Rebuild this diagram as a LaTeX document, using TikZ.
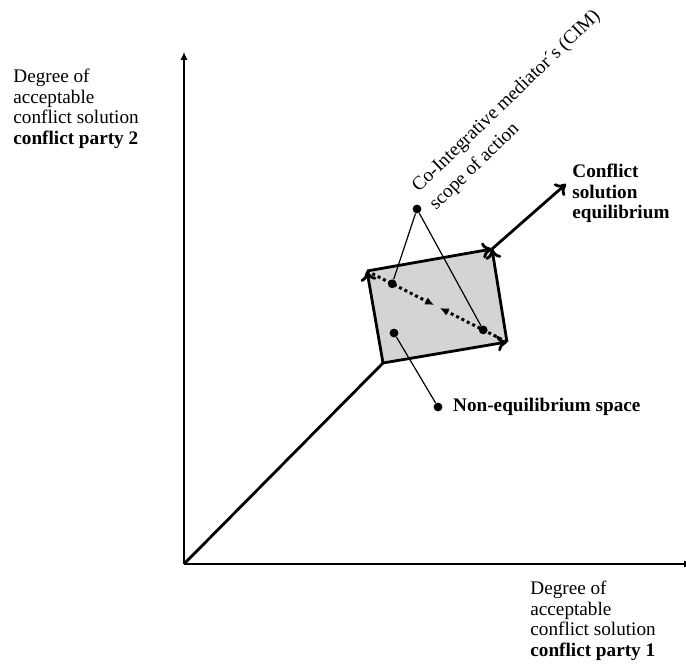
\documentclass[tikz,border=0pt]{standalone}
\usepackage{fontspec}
\setmainfont{Liberation Serif}
\usetikzlibrary{arrows.meta, positioning, calc}

\begin{document}
\begin{tikzpicture}[
  x=0.5pt, y=0.5pt,
  axis/.style={line width=0.6pt, -{Latex[length=4pt,width=3.6pt]}},
  thickline/.style={line width=1.4pt},
  edge/.style={line width=1.4pt, -{Computer Modern Rightarrow[length=5pt,width=8pt]}},
  dotline/.style={line width=1.5pt, dash pattern=on 1.5pt off 1.5pt, -{Latex[length=4.5pt,width=4pt]}},
  area/.style={fill=black!17},
  dot/.style={circle, fill=black, inner sep=0pt, minimum size=4.4pt},
  pointer/.style={line width=0.6pt},
  axislabel/.style={align=left, inner sep=0pt, font=\fontsize{9.6}{10.2}\selectfont},
  boldlabel/.style={align=left, inner sep=0pt, font=\fontsize{9.6}{10.2}\selectfont\bfseries},
  cimlabel/.style={align=left, inner sep=0pt, font=\fontsize{9.6}{12.5}\selectfont},
]
\useasboundingbox (0,0) rectangle (686,669);

% Axes
\coordinate (O) at (184,105);
\coordinate (ytip) at (184,617);
\coordinate (xtip) at (692,105);
\draw[axis] (O) -- (ytip);
\draw[axis] (O) -- (xtip);

% Scope of action
\coordinate (base) at (383,306);
\coordinate (upleft) at (367,398);
\coordinate (apex) at (492,420);
\coordinate (lowright) at (507,327);
\coordinate (equil) at (566,485);
\fill[area] (base) -- (upleft) -- (apex) -- (lowright) -- cycle;
\draw[thickline] (O) -- (base);
\draw[edge] (base) -- (upleft);
\draw[edge] (base) -- (lowright);
\draw[edge] (upleft) -- (apex);
\draw[edge] (lowright) -- (apex);
\draw[edge] (apex) -- (equil);

% Diagonal
\coordinate (mida) at ($(upleft)!0.48!(lowright)$);
\coordinate (midb) at ($(lowright)!0.48!(upleft)$);
\draw[dotline] (upleft) -- (mida);
\draw[dotline] (lowright) -- (midb);

% Points
\node[dot] (cim) at (417,460) {};
\node[dot] (eqa) at ($(upleft)!0.18!(lowright)$) {};
\node[dot] (eqb) at ($(upleft)!0.83!(lowright)$) {};
\node[dot] (ne) at (394,336) {};
\node[dot] (nedot) at (438,262) {};

% Labels
\node[axislabel, anchor=north west] (ylab) at (13,600) {Degree of\\acceptable\\conflict solution\\\textbf{conflict party 2}};
\node[axislabel, anchor=north west] (xlab) at (530,88) {Degree of\\acceptable\\conflict solution\\\textbf{conflict party 1}};
\node[boldlabel, anchor=north west] (eqlab) at (572,505) {Conflict\\solution\\equilibrium};
\node[boldlabel, right=5pt of nedot] (nelab) {Non-equilibrium space};
\node[cimlabel, rotate=44, anchor=north west] (cimlab) at (409,486) {Co-Integrative mediator´s (CIM)\\scope of action};

% Connections
\draw[pointer] (cim) -- (eqa);
\draw[pointer] (cim) -- (eqb);
\draw[pointer] (ne) -- (nedot);

\end{tikzpicture}
\end{document}
